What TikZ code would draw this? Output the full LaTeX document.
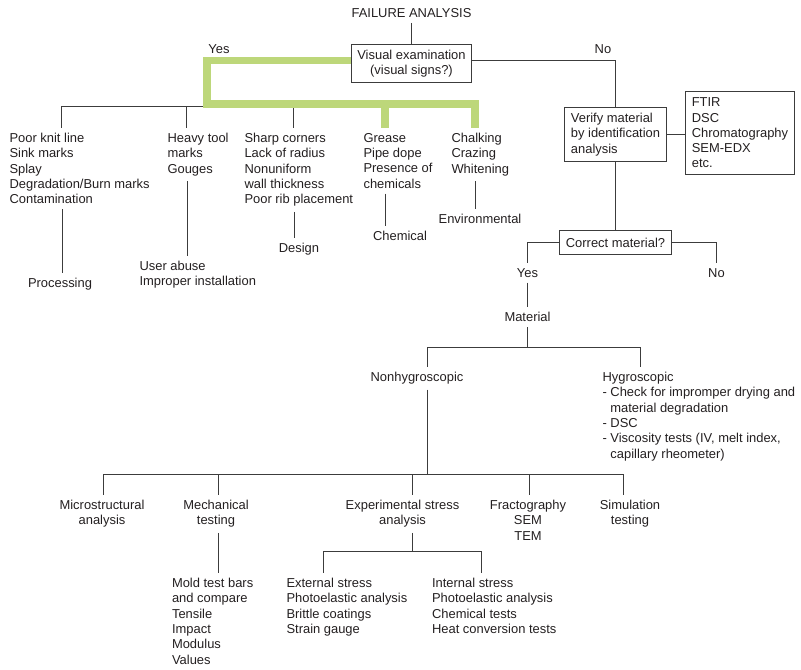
\documentclass[tikz,border=0pt]{standalone}
\usepackage{fontspec}
\setmainfont{Liberation Sans}
\definecolor{ink}{HTML}{231F20}
\definecolor{wire}{HTML}{3C3C3C}
\definecolor{yesgreen}{RGB}{189,215,122}

\begin{document}
\begin{tikzpicture}
  [x=0.75pt, y=-0.75pt, font=\fontsize{9.7}{11.45}\selectfont,
   color=wire, text=ink, line width=0.8pt,
   lnode/.style={inner sep=0pt, outer ysep=4pt, align=left, anchor=north west},
   cnode/.style={inner sep=0pt, outer ysep=4pt, align=center, anchor=north},
   lab/.style={inner sep=0pt, anchor=base},
   ebox/.style={draw=wire, inner xsep=4.6pt, inner ysep=4pt},
   hilite/.style={draw=yesgreen, line width=5.3pt, line join=miter}]
  \useasboundingbox (0,0) rectangle (801,670);

  % top of the tree
  \node [cnode] (title) at (411.5,3) {FAILURE ANALYSIS};
  \node [ebox, align=center] (vis) at (411.5,63.5) {Visual examination\\(visual signs?)};
  \node [lab] (yes1) at (219,54) {Yes};
  \node [lab] (no1) at (603,54) {No};

  % visual signs
  \node [lnode] (knit) at (9,128) {Poor knit line\\Sink marks\\Splay\\Degradation/Burn marks\\Contamination};
  \node [lnode] (heavy) at (167,128) {Heavy tool\\marks\\Gouges};
  \node [lnode] (sharp) at (244,128) {Sharp corners\\Lack of radius\\Nonuniform\\wall thickness\\Poor rib placement};
  \node [lnode] (grease) at (363,128) {Grease\\Pipe dope\\Presence of\\chemicals};
  \node [lnode] (chalk) at (451,128) {Chalking\\Crazing\\Whitening};

  \node [cnode] (processing) at (60,273) {Processing};
  \node [lnode] (abuse) at (139,256) {User abuse\\Improper installation};
  \node [cnode] (design) at (299,238) {Design};
  \node [cnode] (chemical) at (400,226) {Chemical};
  \node [cnode] (environ) at (480,209) {Environmental};

  % material check
  \node [ebox, align=left] (verify) at (615.5,134.5) {Verify material\\by identification\\analysis};
  \node [ebox, align=left, inner ysep=4.8pt] (tools) at (740,133) {FTIR\\DSC\\Chromatography\\SEM-EDX\\etc.};
  \node [ebox, minimum height=18pt] (correct) at (615.5,242.5) {Correct material?};
  \node [cnode] (yes2) at (527.5,263) {Yes};
  \node [cnode] (no2) at (716.5,263) {No};
  \node [cnode] (material) at (527.5,307) {Material};
  \node [cnode] (nonhyg) at (417,367) {Nonhygroscopic};
  \node [lnode] (hyg) at (602,367) {Hygroscopic\\- Check for impromper drying and\\\phantom{- }material degradation\\- DSC\\- Viscosity tests (IV, melt index,\\\phantom{- }capillary rheometer)};

  % tests
  \node [cnode] (micro) at (102,495) {Microstructural\\analysis};
  \node [cnode] (mech) at (216,495) {Mechanical\\testing};
  \node [cnode] (exper) at (402.5,495) {Experimental stress\\analysis};
  \node [cnode] (fracto) at (528,495) {Fractography\\SEM\\TEM};
  \node [cnode] (simul) at (630,495) {Simulation\\testing};
  \node [lnode] (mold) at (171.5,573) {Mold test bars\\and compare\\Tensile\\Impact\\Modulus\\Values};
  \node [lnode] (ext) at (286,573) {External stress\\Photoelastic analysis\\Brittle coatings\\Strain gauge};
  \node [lnode] (int) at (431.5,573) {Internal stress\\Photoelastic analysis\\Chemical tests\\Heat conversion tests};

  \foreach \x [count=\i] in {61.5,186.5,293.5,385,475}
    \coordinate (t\i) at (\x,106.5);
  \foreach \x [count=\i] in {103.5,218.5,412.5,529.5,623.5}
    \coordinate (b\i) at (\x,474.5);
  \coordinate (g) at (207,104);
  \coordinate (hb1) at (427.5,347.5);
  \coordinate (hb2) at (640.5,347.5);
  \coordinate (e1) at (323.5,551.5);
  \coordinate (e2) at (481.5,551.5);

  % connectors
  \draw (title) -- (vis);
  \draw ([yshift=2pt]vis.east) -| (verify.north);
  \draw (t1) -- (t5);
  \foreach \i/\a/\b in {1/knit/processing, 2/heavy/abuse, 3/sharp/design, 4/grease/chemical, 5/chalk/environ} {
    \draw (t\i) -- (t\i |- \a.north);
    \draw ([xshift=0.4pt]t\i |- \a.south) -- ([xshift=0.4pt]t\i |- \b.north);
  }
  \draw [hilite] ([yshift=2pt]vis.west) -| (g) -| (t5 |- chalk.north);
  \draw [hilite] (g -| t4) -- (t4 |- grease.north);

  \draw (verify.east) -- (verify.east -| tools.west);
  \draw (verify) -- (correct);
  \draw (correct.west) -| (yes2.north);
  \draw (correct.east) -| (no2.north);
  \draw (yes2) -- (material);
  \draw (material.south) -- (material.south |- hb1);
  \draw (hb1) -- (hb2);
  \draw (hb1) -- (hb1 |- nonhyg.north);
  \draw (hb2) -- (hb2 |- hyg.north);
  \draw (hb1 |- nonhyg.south) -- (hb1 |- b1);

  \draw (b1) -- (b5);
  \foreach \i/\n in {1/micro, 2/mech, 3/exper, 4/fracto, 5/simul}
    \draw (b\i) -- (b\i |- \n.north);
  \draw (b2 |- mech.south) -- (b2 |- mold.north);
  \draw (b3 |- exper.south) -- (b3 |- e1);
  \draw (e1) -- (e2);
  \draw (e1) -- (e1 |- ext.north);
  \draw (e2) -- (e2 |- int.north);
\end{tikzpicture}
\end{document}
